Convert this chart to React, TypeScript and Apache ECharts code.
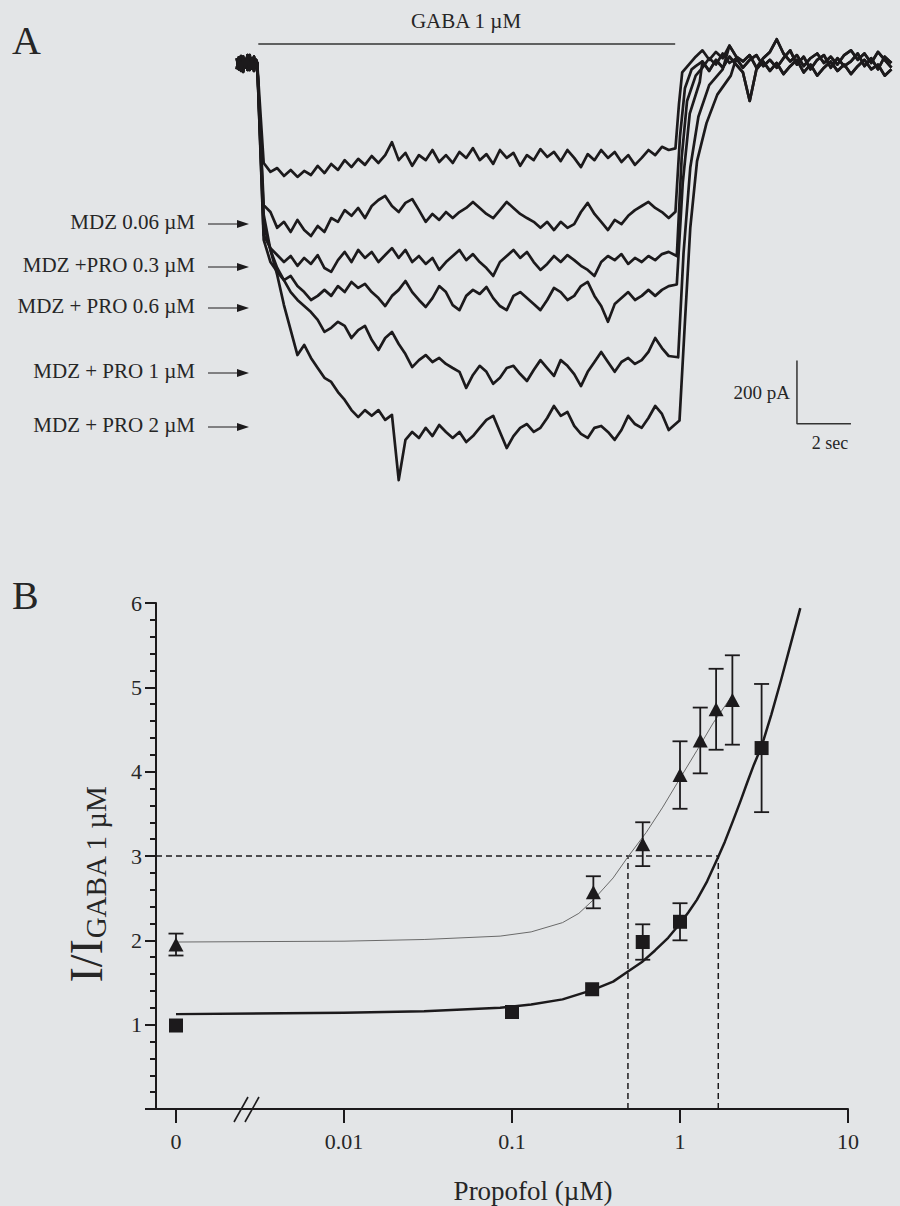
import React, { useEffect, useRef } from "react";
import * as echarts from "echarts";

// ---------------- Panel A data (current traces, pA vs time s) ----------------
const traceLabels = ["MDZ 0.06 µM", "MDZ +PRO 0.3 µM", "MDZ + PRO 0.6 µM", "MDZ + PRO 1 µM", "MDZ + PRO 2 µM"];
const bodyStart = 1.0;
const bodyStep = 0.25;

const preA = [[0, 15], [0.08, -20], [0.16, 22], [0.24, -28], [0.32, 12], [0.4, -22], [0.48, 25], [0.56, -18], [0.64, 20], [0.72, -12], [0.76, 0]];
const preB = [[0, -20], [0.08, 18], [0.16, -25], [0.24, 20], [0.32, -15], [0.4, 25], [0.48, -22], [0.56, 15], [0.64, -25], [0.72, 10], [0.76, 0]];

const traceGaba = [-316, -344, -332, -357, -338, -360, -341, -354, -325, -348, -319, -338, -307, -329, -303, -322, -294, -316, -291, -250, -307, -284, -325, -291, -307, -275, -313, -291, -316, -281, -300, -269, -307, -288, -319, -275, -300, -284, -325, -291, -307, -272, -297, -281, -310, -275, -300, -329, -288, -307, -275, -300, -281, -313, -291, -322, -300, -275, -291, -265, -275];
const traceMdz = [-449, -471, -521, -502, -534, -496, -528, -547, -515, -534, -490, -502, -465, -483, -458, -490, -452, -433, -420, -452, -471, -442, -430, -465, -502, -477, -496, -471, -490, -471, -458, -439, -458, -477, -490, -465, -439, -458, -477, -490, -502, -521, -502, -528, -502, -521, -509, -471, -442, -477, -502, -528, -496, -509, -483, -465, -452, -439, -458, -471, -490];
const tracePro03 = [-544, -585, -607, -629, -610, -641, -616, -635, -607, -648, -660, -623, -597, -629, -591, -616, -597, -629, -607, -585, -616, -591, -629, -610, -635, -616, -654, -629, -610, -591, -623, -604, -629, -648, -673, -629, -610, -591, -616, -597, -629, -654, -635, -610, -629, -607, -623, -641, -654, -673, -629, -610, -623, -604, -635, -616, -629, -610, -623, -604, -597];
const tracePro06 = [-559, -629, -660, -686, -673, -705, -724, -749, -736, -717, -736, -705, -724, -692, -711, -698, -724, -743, -768, -736, -717, -689, -724, -749, -771, -743, -705, -724, -765, -781, -736, -717, -730, -708, -743, -768, -781, -736, -724, -743, -762, -781, -749, -711, -724, -749, -736, -705, -692, -736, -768, -818, -762, -743, -724, -749, -736, -717, -736, -717, -705];
const tracePro1 = [-512, -591, -648, -686, -724, -749, -768, -787, -812, -850, -837, -818, -831, -869, -844, -831, -875, -907, -869, -850, -888, -920, -961, -939, -923, -945, -932, -951, -964, -976, -1027, -986, -957, -976, -1014, -995, -964, -957, -983, -1005, -970, -939, -964, -989, -939, -957, -983, -1021, -976, -945, -913, -945, -976, -945, -932, -951, -939, -913, -869, -901, -926];
const tracePro2 = [-480, -591, -670, -765, -844, -923, -891, -932, -964, -995, -1008, -1040, -1065, -1097, -1119, -1097, -1115, -1097, -1128, -1112, -1318, -1191, -1166, -1185, -1153, -1179, -1144, -1166, -1185, -1166, -1198, -1179, -1153, -1128, -1115, -1166, -1217, -1179, -1153, -1141, -1166, -1153, -1122, -1084, -1115, -1103, -1147, -1172, -1185, -1153, -1147, -1166, -1191, -1160, -1115, -1141, -1153, -1122, -1084, -1109, -1160];

const recGaba = [[16.25, -270], [16.38, -130], [16.5, -30]];
const recMdz = [[16.25, -470], [16.42, -230], [16.6, -80], [16.85, -20]];
const recPro03 = [[16.3, -610], [16.48, -300], [16.68, -120], [17.0, -40]];
const recPro06 = [[16.3, -700], [16.52, -380], [16.78, -160], [17.15, -60]];
const recPro1 = [[16.35, -930], [16.55, -600], [16.8, -330], [17.1, -170], [17.5, -70], [18.0, -20]];
const recPro2 = [[16.4, -1130], [16.6, -820], [16.8, -520], [17.05, -310], [17.4, -190], [17.8, -100], [18.3, -40]];

const tailStart = 17.0;
const tailA = [20, 40, 10, 35, 15, 55, 20, 5, 25, -15, 15, 35, 75, 30, 5, 25, -10, 15, 30, 0, 20, -5, 25, 40, 10, 30, 0, 35, 10, -15];
const tailB = [-10, 5, -25, 10, -15, 20, -5, -30, -120, -20, 5, -25, 0, -35, -10, 10, -30, -5, -40, -15, 5, -25, -5, -35, -10, 10, -20, -5, -40, -20];
const tailC = [5, -15, 15, -5, 30, 0, 15, -15, 10, 25, -10, 10, -15, 15, 40, -5, 20, -20, 10, 25, -15, 15, -10, 5, 30, -10, 15, -20, 20, 0];

const gabaBar = [[0.8, 60], [16.24, 60]];
const scaleBar = [[20.75, -940], [20.75, -1140], [22.75, -1140]];

// ---------------- Panel B data ----------------
const xTickConc = [0, 0.01, 0.1, 1, 10];
const xTickLabels = ["0", "0.01", "0.1", "1", "10"];

const sqConc = [0, 0.1, 0.3, 0.6, 1, 3.06];
const sqMean = [0.99, 1.15, 1.42, 1.98, 2.22, 4.28];
const sqSem = [0, 0, 0, 0.21, 0.22, 0.76];

const triConc = [0, 0.305, 0.6, 1, 1.32, 1.64, 2.05];
const triMean = [1.95, 2.57, 3.14, 3.96, 4.37, 4.74, 4.85];
const triSem = [0.13, 0.19, 0.26, 0.4, 0.39, 0.48, 0.53];

const fitSqConc = [0, 0.01, 0.03, 0.085, 0.13, 0.2, 0.3, 0.4, 0.49, 0.6, 0.71, 0.85, 1, 1.12, 1.26, 1.45, 1.69, 1.85, 2.07, 2.3, 2.5, 2.75, 3.06, 3.5, 4.0, 4.5, 5.2];
const fitSqVal = [1.125, 1.14, 1.16, 1.2, 1.24, 1.3, 1.41, 1.51, 1.63, 1.75, 1.88, 2.03, 2.2, 2.33, 2.48, 2.7, 2.99, 3.17, 3.42, 3.66, 3.86, 4.08, 4.3, 4.68, 5.09, 5.47, 5.94];
const fitTriConc = [0, 0.01, 0.03, 0.085, 0.13, 0.2, 0.25, 0.305, 0.4, 0.49, 0.63, 0.79, 1, 1.26, 1.58, 2.04];
const fitTriVal = [1.98, 1.99, 2.01, 2.05, 2.1, 2.21, 2.32, 2.48, 2.74, 2.99, 3.28, 3.58, 3.92, 4.25, 4.58, 4.9];

const ec30Level = 3;
const ec30Tri = 0.49;
const ec30Sq = 1.69;

// ---------------- helpers ----------------
const FONT = "'Liberation Serif', 'Times New Roman', 'DejaVu Serif', serif";
const INK = "#1c1a1c";
const TEXT = "#262626";
const ZERO_POS = -3;
const pos = (c: number) => (c === 0 ? ZERO_POS : Math.log10(c));

function buildTrace(pre: number[][], body: number[], rec: number[][], tail: number[]) {
  const pts: number[][] = pre.map((p) => [p[0], p[1]]);
  body.forEach((v, i) => pts.push([bodyStart + i * bodyStep, v]));
  rec.forEach((p) => pts.push([p[0], p[1]]));
  const lastT = rec[rec.length - 1][0];
  tail.forEach((v, i) => {
    const t = tailStart + i * 0.25;
    if (t > lastT) pts.push([t, v]);
  });
  return pts;
}

export default function App() {
  const ref = useRef<HTMLDivElement>(null);
  useEffect(() => {
    const chart = echarts.init(ref.current!, undefined, { renderer: "svg" });

    const traces = [
      buildTrace(preA, traceGaba, recGaba, tailA),
      buildTrace(preB, traceMdz, recMdz, tailB),
      buildTrace(preA, tracePro03, recPro03, tailC),
      buildTrace(preB, tracePro06, recPro06, tailB),
      buildTrace(preA, tracePro1, recPro1, tailA),
      buildTrace(preB, tracePro2, recPro2, tailC),
    ];

    const traceSeries = traces.map((d, i) => ({
      type: "line",
      name: i === 0 ? "GABA" : traceLabels[i - 1],
      xAxisIndex: 0,
      yAxisIndex: 0,
      data: d,
      showSymbol: false,
      symbol: "none",
      lineStyle: { color: INK, width: 2.7, join: "round" },
      z: 3,
    }));

    const errSeries = (conc: number[], mean: number[], sem: number[]) => ({
      type: "custom",
      xAxisIndex: 1,
      yAxisIndex: 1,
      z: 4,
      data: conc
        .map((c, i) => [pos(c), mean[i] - sem[i], mean[i] + sem[i], sem[i]])
        .filter((d) => d[3] > 0),
      renderItem: (params: any, api: any) => {
        const x = api.value(0);
        const top = api.coord([x, api.value(2)]);
        const bot = api.coord([x, api.value(1)]);
        const w = 7.5;
        const style = { stroke: INK, lineWidth: 1.8, fill: "none" };
        return {
          type: "group",
          children: [
            { type: "line", shape: { x1: top[0], y1: top[1], x2: bot[0], y2: bot[1] }, style },
            { type: "line", shape: { x1: top[0] - w, y1: top[1], x2: top[0] + w, y2: top[1] }, style },
            { type: "line", shape: { x1: bot[0] - w, y1: bot[1], x2: bot[0] + w, y2: bot[1] }, style },
          ],
        };
      },
    });

    const dashed = { color: INK, width: 1.5, type: [6, 4] as any };

    const labelY = [222, 265, 306, 371, 425];
    const graphics: any[] = [
      { type: "text", x: 12, y: 40, style: { text: "A", fontFamily: FONT, fontSize: 40, fill: TEXT, verticalAlign: "middle" } },
      { type: "text", x: 12, y: 595, style: { text: "B", fontFamily: FONT, fontSize: 40, fill: TEXT, verticalAlign: "middle" } },
      { type: "text", x: 466, y: 21, style: { text: "GABA 1 µM", fontFamily: FONT, fontSize: 21, fill: TEXT, align: "center", verticalAlign: "middle" } },
      { type: "text", x: 790, y: 392, style: { text: "200 pA", fontFamily: FONT, fontSize: 19, fill: TEXT, align: "right", verticalAlign: "middle" } },
      { type: "text", x: 830, y: 443, style: { text: "2 sec", fontFamily: FONT, fontSize: 18, fill: TEXT, align: "center", verticalAlign: "middle" } },
      { type: "text", x: 533, y: 1191, style: { text: "Propofol (µM)", fontFamily: FONT, fontSize: 27, fill: TEXT, align: "center", verticalAlign: "middle" } },
      {
        type: "text",
        x: 86,
        y: 884,
        rotation: Math.PI / 2,
        style: {
          text: "{a|I/I}{b|GABA 1 µM}",
          align: "center",
          verticalAlign: "middle",
          rich: {
            a: { fontFamily: FONT, fontSize: 46, lineHeight: 48, fill: TEXT },
            b: { fontFamily: FONT, fontSize: 29, fill: TEXT, verticalAlign: "bottom" },
          },
        },
      },
      { type: "line", shape: { x1: 234, y1: 1122, x2: 248, y2: 1097 }, style: { stroke: INK, lineWidth: 1.6 } },
      { type: "line", shape: { x1: 245, y1: 1122, x2: 259, y2: 1097 }, style: { stroke: INK, lineWidth: 1.6 } },
    ];
    traceLabels.forEach((t, i) => {
      const y = labelY[i];
      graphics.push({ type: "text", x: 195, y, style: { text: t, fontFamily: FONT, fontSize: 21, fill: TEXT, align: "right", verticalAlign: "middle" } });
      graphics.push({ type: "line", shape: { x1: 208, y1: y + 2, x2: 240, y2: y + 2 }, style: { stroke: INK, lineWidth: 1 } });
      graphics.push({ type: "polygon", shape: { points: [[237, y - 2], [249, y + 2], [237, y + 6]] }, style: { fill: INK } });
    });

    const option: any = {
      animation: false,
      backgroundColor: "#e3e5e7",
      grid: [
        { left: 236.7, right: 7.2, top: 31.35, bottom: 719, outerBoundsMode: "none" },
        { left: 156, right: 52, top: 603, bottom: 97, outerBoundsMode: "none" },
      ],
      xAxis: [
        { gridIndex: 0, type: "value", min: 0, max: 24.3, show: false },
        {
          gridIndex: 1,
          type: "value",
          min: -3.119,
          max: 1,
          axisLine: { show: true, onZero: false, lineStyle: { color: INK, width: 2 } },
          axisTick: { show: true, customValues: xTickConc.map(pos), length: 14, lineStyle: { color: INK, width: 2 } },
          axisLabel: {
            customValues: xTickConc.map(pos),
            formatter: (v: number) => {
              const i = xTickConc.map(pos).findIndex((p) => Math.abs(p - v) < 1e-6);
              return i >= 0 ? xTickLabels[i] : "";
            },
            fontFamily: FONT,
            fontSize: 22,
            color: TEXT,
            margin: 21,
          },
          splitLine: { show: false },
        },
      ],
      yAxis: [
        { gridIndex: 0, type: "value", min: -1340, max: 100, show: false },
        {
          gridIndex: 1,
          type: "value",
          min: 0,
          max: 6,
          interval: 1,
          axisLine: { show: true, onZero: false, lineStyle: { color: INK, width: 2 } },
          axisTick: { show: true, length: 11, lineStyle: { color: INK, width: 2 } },
          minorTick: { show: true, splitNumber: 5, length: 6, lineStyle: { color: INK, width: 2 } },
          axisLabel: { formatter: (v: number) => (v === 0 ? "" : String(v)), fontFamily: FONT, fontSize: 22, color: TEXT, margin: 14 },
          splitLine: { show: false },
        },
      ],
      graphic: graphics,
      series: [
        ...traceSeries,
        { type: "line", xAxisIndex: 0, yAxisIndex: 0, data: gabaBar, showSymbol: false, symbol: "none", lineStyle: { color: "#333", width: 1.5 } },
        { type: "line", xAxisIndex: 0, yAxisIndex: 0, data: scaleBar, showSymbol: false, symbol: "none", lineStyle: { color: "#333", width: 1.5 } },
        // Panel B
        {
          type: "line", xAxisIndex: 1, yAxisIndex: 1, z: 2,
          data: [[-3.119, ec30Level], [pos(ec30Sq), ec30Level]],
          showSymbol: false, symbol: "none", lineStyle: dashed,
        },
        {
          type: "line", xAxisIndex: 1, yAxisIndex: 1, z: 2,
          data: [[pos(ec30Tri), 0], [pos(ec30Tri), ec30Level]],
          showSymbol: false, symbol: "none", lineStyle: dashed,
        },
        {
          type: "line", xAxisIndex: 1, yAxisIndex: 1, z: 2,
          data: [[pos(ec30Sq), 0], [pos(ec30Sq), ec30Level]],
          showSymbol: false, symbol: "none", lineStyle: dashed,
        },
        {
          type: "line", xAxisIndex: 1, yAxisIndex: 1, z: 3,
          data: fitTriConc.map((c, i) => [pos(c), fitTriVal[i]]),
          smooth: false, showSymbol: false, symbol: "none",
          lineStyle: { color: "#6a6a6a", width: 1 },
        },
        {
          type: "line", xAxisIndex: 1, yAxisIndex: 1, z: 3,
          data: fitSqConc.map((c, i) => [pos(c), fitSqVal[i]]),
          smooth: false, showSymbol: false, symbol: "none",
          lineStyle: { color: INK, width: 2.5, join: "round" },
        },
        errSeries(triConc, triMean, triSem),
        errSeries(sqConc, sqMean, sqSem),
        {
          type: "scatter", xAxisIndex: 1, yAxisIndex: 1, z: 5,
          data: triConc.map((c, i) => [pos(c), triMean[i]]),
          symbol: "triangle", symbolSize: [15, 14], itemStyle: { color: INK, opacity: 1 },
        },
        {
          type: "scatter", xAxisIndex: 1, yAxisIndex: 1, z: 5,
          data: sqConc.map((c, i) => [pos(c), sqMean[i]]),
          symbol: "rect", symbolSize: 14, itemStyle: { color: INK, opacity: 1 },
        },
      ],
    };

    chart.setOption(option);
    return () => chart.dispose();
  }, []);

  return (
    <div
      ref={ref}
      style={{ position: "fixed", left: 0, top: 0, width: 900, height: 1206, background: "#e3e5e7" }}
    />
  );
}
